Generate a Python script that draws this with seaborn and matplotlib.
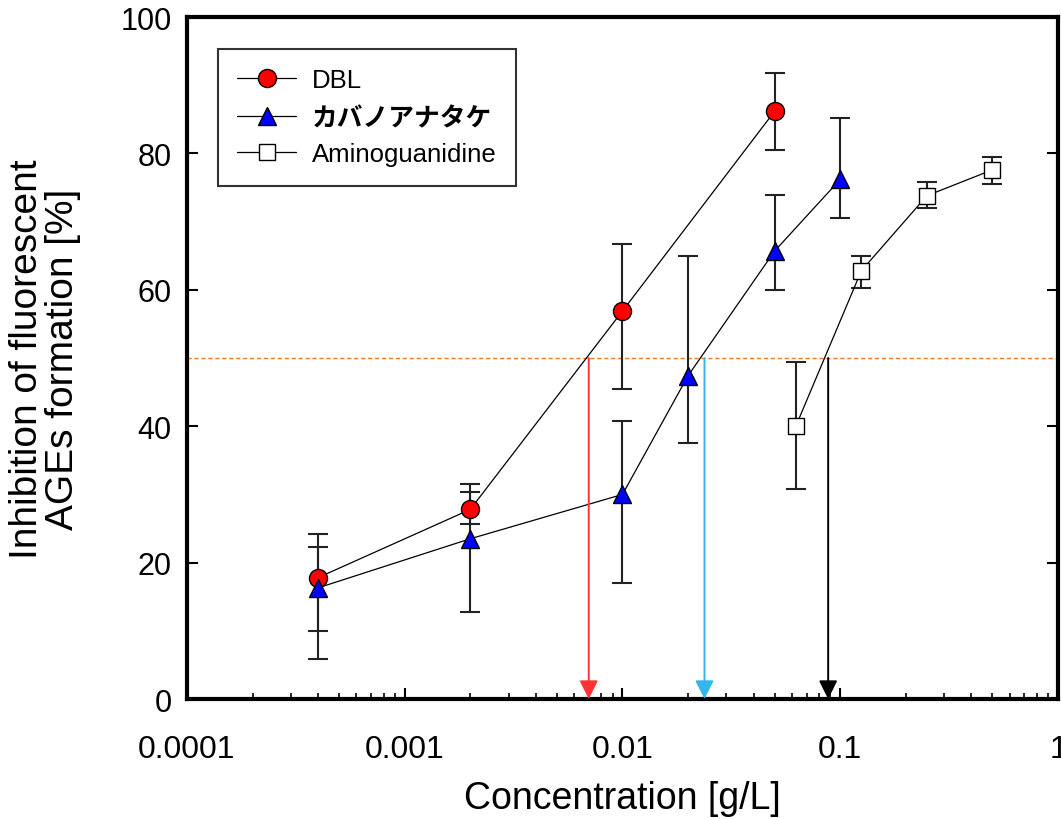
import matplotlib
matplotlib.use('Agg')
import matplotlib.pyplot as plt
import seaborn as sns
import numpy as np

# concentrations [g/L]
conc = [0.0004, 0.002, 0.01, 0.05]
conc_kaba = [0.0004, 0.002, 0.01, 0.02, 0.05, 0.1]
conc_amino = [0.0625, 0.125, 0.25, 0.5]

# inhibition [%] with lower / upper error bar ends
dbl = [17.8, 27.8, 56.9, 86.2]
dbl_lo = [10.0, 25.6, 45.5, 80.5]
dbl_hi = [24.2, 31.5, 66.7, 91.8]

kaba = [16.3, 23.5, 30.0, 47.4, 65.7, 76.2]
kaba_lo = [5.9, 12.8, 17.0, 37.5, 60.0, 70.5]
kaba_hi = [22.3, 30.3, 40.8, 65.0, 73.9, 85.2]

amino = [40.0, 62.8, 73.8, 77.6]
amino_lo = [30.8, 60.3, 72.0, 75.5]
amino_hi = [49.4, 65.0, 75.8, 79.5]

labels = ['DBL', 'カバノアナタケ', 'Aminoguanidine']

# IC50 values marked with arrows
ic50 = [0.0070, 0.0238, 0.088]
ic50_colors = ['#ff3333', '#33b5ee', 'black']

sns.set_style('ticks')
plt.rcParams['font.family'] = ['Liberation Sans', 'Noto Sans CJK JP', 'DejaVu Sans']
plt.rcParams['text.color'] = 'black'
plt.rcParams['axes.labelcolor'] = 'black'
plt.rcParams['xtick.color'] = 'black'
plt.rcParams['ytick.color'] = 'black'

fig = plt.figure(figsize=(10.61, 8.2), dpi=100)
ax = fig.add_axes([0.1762, 0.1463, 0.8210, 0.8317])

series = [
    (conc, dbl, dbl_lo, dbl_hi, 'o', 'red', 13),
    (conc_kaba, kaba, kaba_lo, kaba_hi, '^', 'blue', 13),
    (conc_amino, amino, amino_lo, amino_hi, 's', 'white', 11),
]

for (xs, ys, lo, hi, mk, fc, ms), lab in zip(series, labels):
    yerr = [np.array(ys) - np.array(lo), np.array(hi) - np.array(ys)]
    ax.errorbar(xs, ys, yerr=yerr, fmt='none', ecolor='#222222', elinewidth=1.5,
                capsize=7, capthick=1.5, zorder=2)
    sns.lineplot(x=xs, y=ys, ax=ax, color='black', lw=0.9, marker=mk,
                 markersize=ms, markerfacecolor=fc, markeredgecolor='black',
                 markeredgewidth=1.0, label=lab, zorder=3)

ax.axhline(50, color='#f07a2a', lw=1.0, ls=(0, (3, 2)), zorder=1)

for x, c in zip(ic50, ic50_colors):
    ax.annotate('', xy=(x, 0), xytext=(x, 50),
                arrowprops=dict(arrowstyle='-|>', color=c, lw=1.4,
                                mutation_scale=28, shrinkA=0, shrinkB=0))

ax.set_xscale('log')
ax.set_xlim(0.0001, 1)
ax.set_ylim(0, 100)
ax.set_xticks([0.0001, 0.001, 0.01, 0.1, 1])
ax.set_xticklabels(['0.0001', '0.001', '0.01', '0.1', '1'])
ax.set_yticks([0, 20, 40, 60, 80, 100])

for s in ax.spines.values():
    s.set_linewidth(3)
    s.set_color('black')

ax.tick_params(axis='both', which='major', direction='in', length=8, width=1.5,
               top=False, right=True)
ax.tick_params(axis='x', which='major', pad=25, labelsize=23)
ax.tick_params(axis='y', which='major', pad=11, labelsize=22)
ax.tick_params(axis='x', which='minor', direction='in', length=4, width=1.2)
ax.tick_params(axis='y', which='minor', left=False)

ax.set_xlabel('Concentration [g/L]', fontsize=27)
ax.xaxis.set_label_coords(0.5, -0.118)
ax.set_ylabel('Inhibition of fluorescent\nAGEs formation [%]', fontsize=28,
              linespacing=1.0)
ax.yaxis.set_label_coords(-0.122, 0.5)

leg = ax.legend(loc='upper left', bbox_to_anchor=(0.0356, 0.953), borderaxespad=0,
                fontsize=18.5, frameon=True, fancybox=False, edgecolor='black',
                handlelength=2.3, borderpad=0.75, labelspacing=0.45, handletextpad=0.6)
leg.get_frame().set_linewidth(1.5)
for t in leg.get_texts():
    if t.get_text() == 'カバノアナタケ':
        t.set_fontfamily(['Noto Sans CJK JP'])
        t.set_fontweight('bold')

fig.savefig('out.png', dpi=100)
